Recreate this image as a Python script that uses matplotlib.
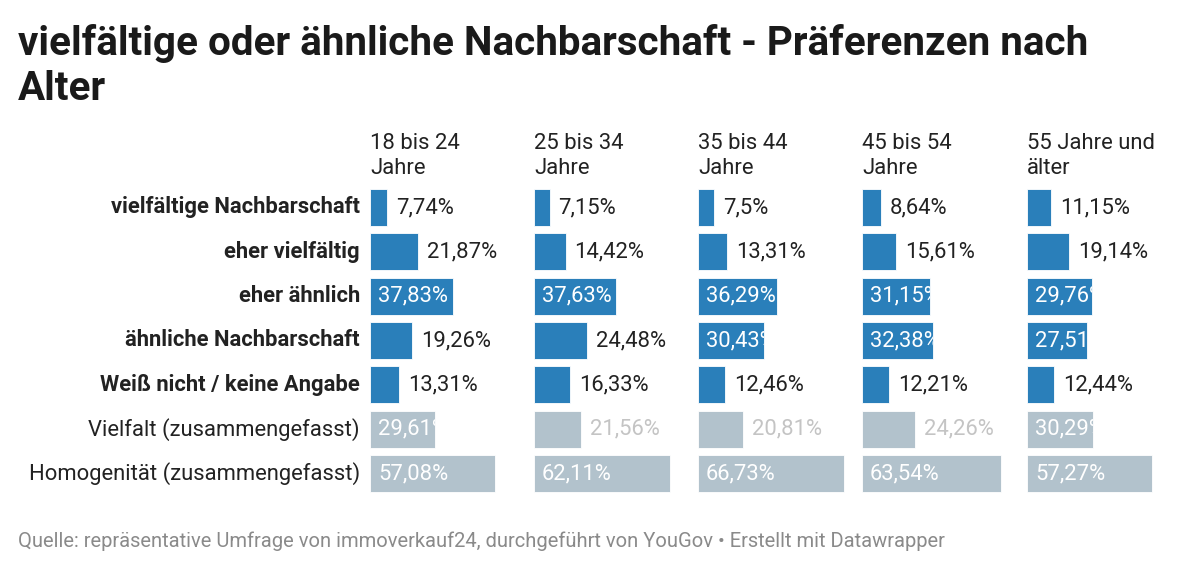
import matplotlib.pyplot as plt

plt.rcParams['font.family'] = ['Roboto', 'DejaVu Sans']

groups = ["18 bis 24\nJahre", "25 bis 34\nJahre", "35 bis 44\nJahre",
          "45 bis 54\nJahre", "55 Jahre und\nälter"]
rows = ["vielfältige Nachbarschaft", "eher vielfältig", "eher ähnlich",
        "ähnliche Nachbarschaft", "Weiß nicht / keine Angabe",
        "Vielfalt (zusammengefasst)", "Homogenität (zusammengefasst)"]
summary_rows = [5, 6]

v18_24 = [7.74, 21.87, 37.83, 19.26, 13.31, 29.61, 57.08]
v25_34 = [7.15, 14.42, 37.63, 24.48, 16.33, 21.56, 62.11]
v35_44 = [7.5, 13.31, 36.29, 30.43, 12.46, 20.81, 66.73]
v45_54 = [8.64, 15.61, 31.15, 32.38, 12.21, 24.26, 63.54]
v55 = [11.15, 19.14, 29.76, 27.51, 12.44, 30.29, 57.27]
values = [v18_24, v25_34, v35_44, v45_54, v55]

BLUE = '#2a7fba'
GREY = '#b2c2cc'
W, H = 1200, 571
fig = plt.figure(figsize=(W / 100, H / 100), dpi=100)

px_per_pct = 2.185
panel_w = 155
x0s = [370, 534, 698, 862, 1027]
top_px, bot_px = 185.3, 495.7
fs = 15.8

fig.text(18 / W, 1 - 24 / H, "vielfältige oder ähnliche Nachbarschaft - Präferenzen nach\nAlter",
         fontsize=29.1, fontweight='bold', color='#1a1a1a', va='top', ha='left', linespacing=1.22)

for i, name in enumerate(rows):
    yc = top_px + (i + 0.5) * (bot_px - top_px) / len(rows)
    fig.text(360 / W, 1 - yc / H, name, ha='right', va='center', fontsize=fs,
             fontweight='normal' if i in summary_rows else 'bold', color='#222222')

for g, (label, vals) in enumerate(zip(groups, values)):
    ax = fig.add_axes([x0s[g] / W, 1 - bot_px / H, panel_w / W, (bot_px - top_px) / H])
    ax.set_xlim(0, panel_w / px_per_pct)
    ax.set_ylim(len(rows) - 0.5, -0.5)
    ax.axis('off')
    fig.text(x0s[g] / W, 1 - 133 / H, label, ha='left', va='top', fontsize=fs,
             color='#222222', linespacing=1.22)
    for i, v in enumerate(vals):
        c = GREY if i in summary_rows else BLUE
        bar = ax.barh(i, v, height=0.84, color=c, edgecolor='white', linewidth=0.6)[0]
        txt = f"{v:g}".replace('.', ',') + '%'
        if v > 25:
            t = ax.annotate(txt, (0, i), xytext=(8, 0), textcoords='offset pixels',
                            ha='left', va='center', fontsize=fs, color='white')
            t.set_clip_path(bar)
        else:
            tc = '#c4c4c4' if i in summary_rows else '#222222'
            ax.annotate(txt, (v, i), xytext=(9, 0), textcoords='offset pixels',
                        ha='left', va='center', fontsize=fs, color=tc)

fig.text(18 / W, 1 - 541 / H,
         "Quelle: repräsentative Umfrage von immoverkauf24, durchgeführt von YouGov • Erstellt mit Datawrapper",
         ha='left', va='center', fontsize=14.5, color='#8a8a8a')

fig.savefig('out.png', dpi=100)
